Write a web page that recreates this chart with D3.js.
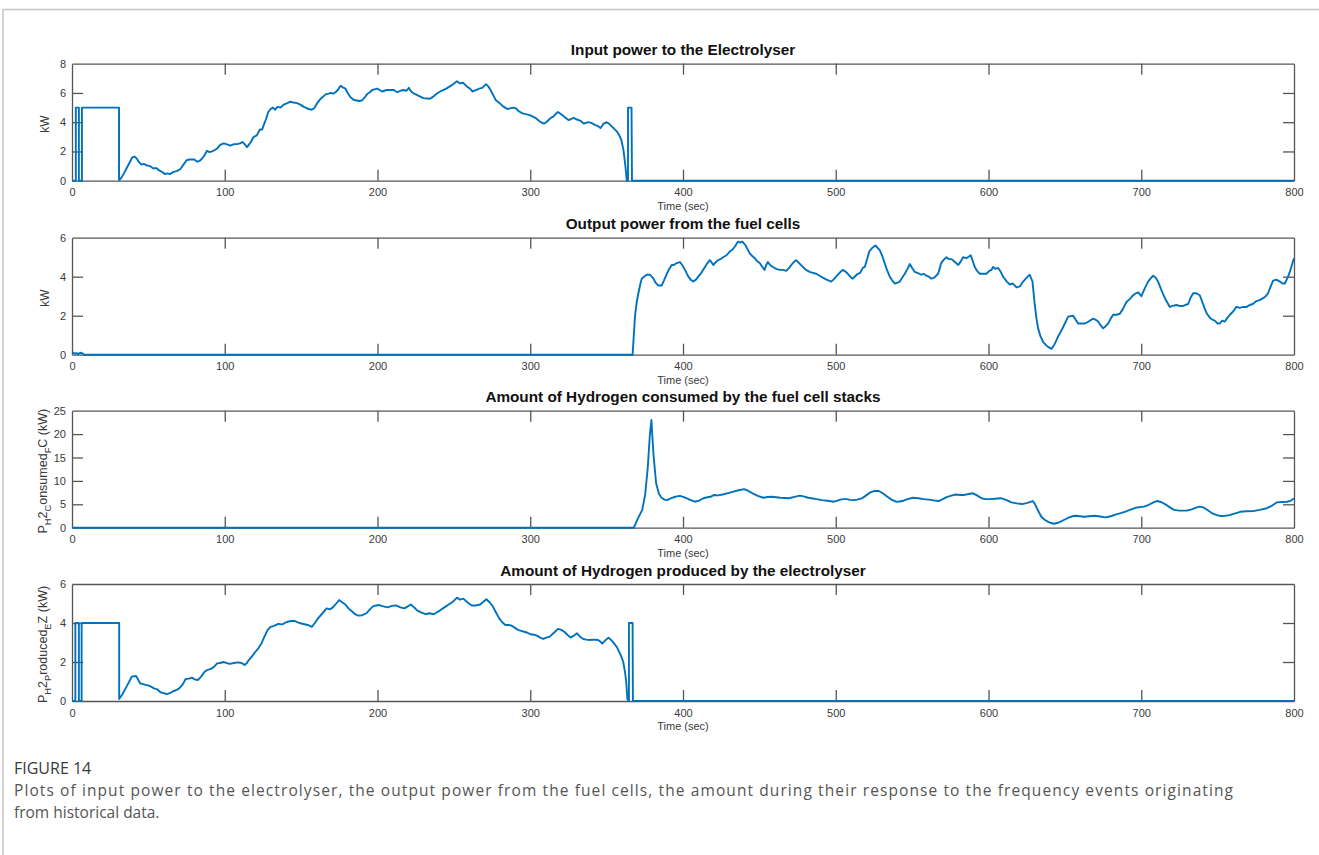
<!DOCTYPE html>
<html>
<head>
<meta charset="utf-8">
<script src="https://cdn.jsdelivr.net/npm/d3@7"></script>
<style>
  html, body { margin: 0; padding: 0; background: #fff; }
  svg { display: block; }
</style>
</head>
<body>
<svg id="fig" width="1319" height="855"></svg>
<script>
// ---- Data: [time (s), value] ----
const timeTicks = [0, 100, 200, 300, 400, 500, 600, 700, 800];

const electrolyserInput = [
  [0,0],[2.5,0],[2.5,5],[4.5,5],[4.5,0],[6.5,0],[6.5,5],[30.8,5],[30.8,0.05],
  [32,0.15],[34,0.5],[36,0.9],[38,1.3],[39.5,1.6],[41,1.65],[42.5,1.5],[44,1.25],[45.5,1.1],[47,1.15],[49,1.05],[51,1.0],[53,0.85],[55.5,0.85],[57,0.7],[59,0.6],[61,0.45],[62.5,0.5],[64,0.45],[66.5,0.6],[68.5,0.65],[71,0.8],[73,1.1],[75,1.4],[77,1.45],[80,1.45],[82,1.3],[83.5,1.35],[85,1.5],[86.5,1.7],[88.4,2.05],[90,1.95],[91.7,2.0],[93.5,2.1],[95,2.2],[97,2.45],[99.3,2.55],[101,2.5],[103.7,2.4],[106,2.5],[108,2.5],[110,2.55],[111.5,2.65],[113,2.5],[114.6,2.3],[116.8,2.6],[119,3.0],[121,3.1],[123,3.5],[124.5,3.5],[125.5,3.8],[127,4.2],[128.5,4.7],[130,4.9],[131.5,5.0],[133,4.85],[134.5,5.05],[136.5,5.0],[138.6,5.2],[141,5.3],[143,5.4],[145,5.35],[147.4,5.3],[149.5,5.2],[151.7,5.05],[153,5.0],[155,4.9],[157,4.85],[158.5,4.95],[160.5,5.3],[162.7,5.6],[164.5,5.75],[166,5.9],[168,5.95],[169.5,6.0],[171,5.95],[172.5,6.05],[174,6.2],[175.8,6.5],[177,6.4],[179,6.3],[180.5,6.0],[182,5.75],[184,5.55],[185.6,5.5],[188,5.45],[190,5.5],[192,5.75],[193.5,5.95],[195,6.05],[196.5,6.2],[198,6.25],[199.8,6.3],[201.5,6.2],[203,6.1],[204.5,6.15],[206,6.2],[208,6.2],[210.7,6.2],[212,6.1],[213,6.05],[215,6.15],[217,6.2],[219,6.15],[220.5,6.35],[222,6.1],[224,5.95],[226,5.85],[228,5.75],
  [230,5.65],[232.5,5.62],[234.4,5.6],[236.5,5.75],[238.7,5.95],[241,6.1],[243,6.2],[245,6.3],[247.4,6.45],[249.5,6.6],[252,6.8],[254,6.65],[256,6.7],[257.5,6.55],[259,6.4],[260.5,6.3],[262.3,6.1],[264.5,6.2],[266.6,6.3],[268.5,6.35],[271,6.6],[272.5,6.45],[274,6.2],[275.5,5.9],[277.5,5.5],[280,5.3],[282,5.1],[283.5,5.0],[285,4.9],[287,4.95],[289,5.0],[290.6,4.95],[292.5,4.75],[295,4.6],[297,4.55],[299,4.5],[300.5,4.45],[302.4,4.35],[304,4.25],[305.6,4.1],[307,4.0],[308.9,3.9],[310.5,4.0],[312,4.15],[313.5,4.3],[315.3,4.4],[317,4.6],[318.2,4.7],[319.5,4.6],[320.8,4.5],[322.5,4.35],[325,4.15],[326.5,4.2],[328.4,4.3],[330,4.2],[331.6,4.15],[333.5,4.05],[335,3.9],[336.5,3.95],[338,4.0],[340,3.95],[342.6,3.8],[344,3.75],[345.9,3.6],[347,3.75],[348,3.9],[350,4.0],[351.5,3.9],[353.5,3.7],[355,3.55],[356.8,3.35],[358.3,3.1],[359.6,2.8],[361,2.1],[362.3,1.0],[363.2,0],[364,0],[364,5],[366.3,5],[366.6,0],[800,0]
];

const fuelCellOutput = [
  [0,0.12],[1,0.1],[2,0.06],[3,0.08],[4,0.03],[5,0.08],[6,0.1],[7,0.06],[8,0],[367,0],
  [368.6,2.0],[369.7,2.7],[370.8,3.15],[372,3.6],[373,3.9],[374.5,4.0],[376.3,4.1],[378.5,4.1],[380.6,3.9],[382,3.7],[383.9,3.55],[386,3.55],[387.5,3.8],[389.4,4.15],[391,4.4],[392.6,4.6],[394,4.6],[395.9,4.7],[398,4.75],[399.5,4.6],[401.3,4.35],[403.5,4.0],[405,3.85],[406.7,3.75],[408.5,3.85],[410,4.0],[412,4.2],[414.4,4.5],[416,4.7],[417.6,4.85],[419,4.7],[419.8,4.6],[421.5,4.75],[423,4.85],[424.5,4.9],[426.3,5.0],[428.5,5.1],[430.7,5.3],[432.5,5.4],[434,5.55],[436,5.8],[437.5,5.75],[438.9,5.8],[441,5.6],[442.3,5.4],[443.7,5.2],[445.5,5.05],[447,4.95],[448.5,4.8],[450.2,4.7],[452,4.5],[453.4,4.35],[454.5,4.6],[455.6,4.75],[457,4.6],[458.9,4.5],[461,4.4],[463.2,4.35],[465.5,4.35],[467.6,4.3],[469.5,4.45],[470.9,4.6],[472.5,4.75],[474.1,4.85],[476,4.7],[478.5,4.5],[480.5,4.35],[482.9,4.25],[485,4.2],[487.2,4.15],[489.5,4.05],[491.5,3.95],[494,3.85],[497,3.75],[498.5,3.85],[500.2,4.0],[502.5,4.2],[504.6,4.35],[506.5,4.25],[507.9,4.15],[509.5,4.0],[511.1,3.9],[513,4.05],[514.4,4.15],[516,4.2],[517.7,4.45],[519,4.5],[520.5,4.9],[522,5.3],[524.2,5.5],[526,5.6],[528.9,5.35],[530.5,5.05],[532,4.7],[533.5,4.35],[535.4,4.0],[537,3.8],[538.7,3.65],[540.5,3.7],[541.9,3.75],[543.5,3.95],[545.2,4.15],[547,4.4],[548.5,4.65],[550,4.45],[551.7,4.25],[553.5,4.2],[556,4.1],[557.5,4.15],[559.4,4.05],[561,4.0],[562.6,3.9],[564.5,3.95],[567,4.15],[568,4.4],[569,4.7],[570.5,4.85],[572.5,5.0],[574,4.9],[575.8,4.9],[578,4.75],[580.2,4.6],[582,4.8],[583.4,5.0],[585.5,4.95],[588.4,5.1],[589.5,4.85],[591,4.5],[592.5,4.3],[594.3,4.15],[596.5,4.15],[598.7,4.15],[600.5,4.3],[602,4.35],[603,4.5],[604.5,4.4],[606.3,4.45],[608,4.25],[609.6,4.0],[612,3.75],[614,3.6],[616,3.65],[618.3,3.45],[620.5,3.5],[622.7,3.75],[625,3.95],[627,4.1],[628.8,3.75],[630.3,2.55],[631.5,1.8],[632.5,1.35],[634,0.95],[635.8,0.65],[637.5,0.5],[639,0.4],[641.2,0.3],[643,0.5],[644.5,0.75],[646,1.0],[647.8,1.25],[650,1.6],[652.1,1.95],[655.4,2.0],[657,1.8],[658.7,1.6],[661,1.6],[663,1.6],[665.5,1.7],[668.5,1.85],[670,1.8],[671.7,1.7],[673.5,1.5],[675,1.35],[676.5,1.45],[678.3,1.6],[680,1.85],[681.6,2.05],[684,2.05],[686,2.1],[688,2.35],[690.3,2.7],[692.5,2.85],[694.7,3.05],[696.5,3.15],[698,3.2],[700.1,3.0],[702,3.35],[704.5,3.75],[706,3.9],[707.8,4.05],[709.5,3.95],[711,3.75],[712.5,3.45],[714.3,3.1],[716.5,2.75],[718.7,2.45],[720.5,2.5],[723,2.55],[725,2.5],[727.4,2.5],[729,2.55],[730.7,2.6],[732.5,2.95],[734,3.15],[736,3.15],[738.3,3.05],[740,2.7],[741.6,2.35],[743,2.1],[744.9,1.9],[746.5,1.8],[748.1,1.75],[750,1.6],[751.4,1.6],[753,1.75],[754.7,1.7],[756.5,1.9],[758,2.05],[760,2.2],[762.3,2.45],[764.5,2.4],[766.7,2.45],[769,2.45],[771,2.55],[773,2.6],[775.4,2.75],[777.5,2.8],[779.8,2.9],[781.5,3.0],[783,3.15],[784.5,3.45],[786.3,3.8],[788.5,3.85],[790.7,3.75],[792.5,3.65],[794,3.65],[796.1,4.0],[797.5,4.3],[799,4.7],[800,4.95]
];

const hydrogenConsumed = [
  [0,0],[367.8,0],[370.5,2.0],[373.3,3.8],[375.2,7.0],[376.9,12.7],[378.3,19.8],[379.3,23.0],[380.7,15.5],[382.4,9.5],[384.3,7.2],[386,6.4],[387.8,6.0],[389.6,5.9],[391.5,6.2],[393.8,6.5],[396,6.7],[398,6.8],[400,6.6],[402.2,6.3],[405,5.9],[407.8,5.55],[410.5,5.8],[413.4,6.3],[416,6.5],[418,6.6],[420.4,7.0],[423,6.9],[426,7.1],[429.5,7.4],[433,7.7],[436.5,8.0],[440,8.25],[442.5,7.9],[445.6,7.35],[449,6.8],[452.6,6.4],[455.5,6.55],[458.2,6.6],[461,6.5],[463.8,6.4],[466.5,6.35],[469.4,6.3],[473,6.6],[476.4,6.85],[479,6.7],[482,6.4],[485,6.25],[487.6,6.1],[491,5.9],[494.6,5.75],[498.8,5.55],[501,5.8],[503,6.0],[505,6.1],[507.2,6.1],[509.5,5.95],[511.4,5.9],[514,6.0],[517,6.25],[519.5,6.8],[522.6,7.55],[525.5,7.85],[528.2,7.85],[531,7.3],[533.8,6.6],[536.5,6.0],[539.4,5.55],[541.5,5.6],[543.6,5.7],[547,6.1],[550.6,6.4],[554,6.3],[557.6,6.1],[561,6.0],[564,5.85],[567.4,5.7],[570,6.1],[573,6.6],[575.8,6.85],[578.6,7.1],[581.5,7.0],[584.2,7.0],[587,7.2],[589.8,7.35],[592.5,6.9],[595.4,6.3],[598,6.1],[601,6.1],[604.5,6.2],[608,6.3],[611.5,5.95],[615,5.4],[618.5,5.2],[622,5.05],[625.5,5.3],[629,5.7],[630.5,5.0],[631.8,4.1],[633.2,3.2],[634.6,2.35],[636.7,1.7],[638.8,1.3],[641,1.0],[643,0.85],[645,1.0],[647.2,1.3],[650,1.75],[652.8,2.2],[655,2.45],[657,2.55],[660,2.45],[662.6,2.35],[666,2.45],[669.6,2.55],[673,2.4],[676.6,2.2],[680,2.45],[683.6,2.85],[686.5,3.1],[689.2,3.4],[692.5,3.8],[696.2,4.25],[699,4.4],[701.8,4.5],[705,4.9],[708,5.4],[710.2,5.7],[713,5.5],[715.8,5.0],[718.5,4.4],[721.4,3.8],[725,3.65],[729.8,3.65],[733,3.9],[736,4.3],[738.2,4.5],[740.5,4.35],[742.4,4.0],[744.5,3.5],[746.6,3.05],[749.5,2.7],[752.2,2.5],[755,2.55],[757.8,2.7],[761,3.0],[764.8,3.4],[769,3.5],[773.2,3.55],[777.5,3.8],[781.6,4.1],[785,4.6],[788.6,5.4],[792,5.5],[795.6,5.55],[798,5.8],[800,6.25]
];

const hydrogenProduced = [
  [0,0],[2.2,0],[2.2,4],[4.5,4],[4.5,0],[6.3,0],[6.3,4],[30.9,4],[30.9,0.1],
  [33,0.35],[35.8,0.75],[37.5,1.0],[39.1,1.25],[41.9,1.28],[43.3,1.1],[44.6,0.9],[47,0.85],[49.6,0.8],[51.5,0.75],[53.7,0.65],[55.8,0.6],[57.9,0.45],[60,0.4],[62,0.35],[64,0.4],[66.1,0.5],[68,0.55],[70.2,0.65],[72.5,0.85],[74.4,1.13],[76.5,1.15],[78.5,1.2],[80.5,1.1],[82.6,1.08],[84.5,1.25],[86.8,1.5],[88.8,1.6],[90.9,1.65],[93,1.75],[95,1.93],[97,1.95],[99.2,2.0],[101,1.95],[103.3,1.9],[106,1.95],[108.8,1.98],[111,1.95],[113,1.85],[114.5,1.95],[115.7,2.1],[118,2.3],[119.8,2.5],[122,2.7],[124,2.95],[126,3.3],[128.1,3.65],[130,3.8],[132.2,3.85],[135,3.95],[137.7,3.93],[140.5,4.05],[143.3,4.1],[146,4.1],[148.8,4.0],[151.5,3.95],[154.3,3.9],[157,3.8],[159,4.0],[161.2,4.25],[164,4.5],[166.7,4.75],[168.8,4.7],[170.8,4.8],[173,5.0],[174.9,5.18],[177,5.05],[179,4.95],[181,4.75],[183.2,4.6],[185.3,4.45],[187.3,4.38],[190,4.4],[192.8,4.5],[195,4.7],[197,4.85],[199,4.9],[201.1,4.92],[203.8,4.85],[206.6,4.8],[209.5,4.88],[212.1,4.9],[215,4.8],[217.6,4.75],[219.8,4.85],[221.8,4.95],[224,4.8],[225.9,4.65],[228.5,4.55],[231.4,4.45],[234,4.5],[236.9,4.45],[239,4.55],[241,4.65],[243.8,4.8],[246.6,4.95],[249.5,5.1],[252,5.3],[254,5.2],[256.2,5.25],[259,5.05],[261.7,4.9],[264.5,4.9],[267.2,4.95],[269.5,5.1],[271.3,5.22],[273.5,5.05],[275.5,4.85],[277.5,4.55],[279.6,4.25],[281.5,4.05],[283.7,3.9],[285.8,3.9],[287.9,3.86],[290,3.75],[292,3.65],[294,3.6],[296.1,3.55],[298.2,3.5],[300.3,3.42],[302.3,3.4],[304.4,3.35],[306.5,3.25],[308.5,3.18],[310.5,3.25],[312.7,3.3],[315.5,3.5],[318.2,3.7],[320.3,3.65],[322.3,3.55],[324.3,3.4],[326.4,3.25],[328.5,3.35],[330.6,3.47],[332.6,3.3],[334.7,3.18],[336.8,3.15],[338.8,3.13],[341.5,3.15],[344.4,3.13],[345.8,3.05],[347.1,2.95],[349,3.1],[351.2,3.25],[353.3,3.1],[355.4,2.9],[356.8,2.75],[358.1,2.53],[359.5,2.3],[360.9,2.0],[362,1.5],[362.8,1.0],[363.6,0.1],[364.6,0],[364.6,4],[367,4],[367.2,0],[800,0]
];

const titles = [
  "Input power to the Electrolyser",
  "Output power from the fuel cells",
  "Amount of Hydrogen consumed by the fuel cell stacks",
  "Amount of Hydrogen produced by the electrolyser"
];
const yTicksInput = [0, 2, 4, 6, 8];
const yTicksOutput = [0, 2, 4, 6];
const yTicksConsumed = [0, 5, 10, 15, 20, 25];
const yTicksProduced = [0, 2, 4, 6];
// y labels as runs of [text, isSubscript]
const yLabelInput = [["kW", false]];
const yLabelOutput = [["kW", false]];
const yLabelConsumed = [["P", false], ["H", true], ["2", false], ["C", true], ["onsumed", false], ["F", true], ["C (kW)", false]];
const yLabelProduced = [["P", false], ["H", true], ["2", false], ["P", true], ["roduced", false], ["E", true], ["Z (kW)", false]];
const xLabel = "Time (sec)";
const figureLabel = "FIGURE 14";
const captionLines = [
  "Plots of input power to the electrolyser, the output power from the fuel cells, the amount during their response to the frequency events originating",
  "from historical data."
];

// ---- Drawing ----
const svg = d3.select("#fig");
const FONT = "'Liberation Sans', Arial, Helvetica, sans-serif";
const AXIS_COLOR = "#555";
const LINE_COLOR = "#0072BD";
const plotLeft = 72, plotRight = 1294, plotH = 117, tickLen = 11;

// outer frame (top and left rules)
svg.append("line").attr("x1", 3).attr("x2", 1319).attr("y1", 9.5).attr("y2", 9.5)
  .attr("stroke", "#c4c4c4").attr("stroke-width", 1.5);
svg.append("line").attr("x1", 3).attr("x2", 3).attr("y1", 9.5).attr("y2", 855)
  .attr("stroke", "#c4c4c4").attr("stroke-width", 1.5);

const x = d3.scaleLinear().domain([0, 800]).range([plotLeft, plotRight]);

const panels = [
  { top: 63.7,  ymax: 8,  yticks: yTicksInput,    label: yLabelInput,    data: electrolyserInput, title: titles[0], labelX: 49, labelSize: 12 },
  { top: 237.7, ymax: 6,  yticks: yTicksOutput,   label: yLabelOutput,   data: fuelCellOutput,    title: titles[1], labelX: 49, labelSize: 12 },
  { top: 410.7, ymax: 25, yticks: yTicksConsumed, label: yLabelConsumed, data: hydrogenConsumed,  title: titles[2], labelX: 47, labelSize: 12.5 },
  { top: 584,   ymax: 6,  yticks: yTicksProduced, label: yLabelProduced, data: hydrogenProduced,  title: titles[3], labelX: 47, labelSize: 12.5 }
];

panels.forEach(p => {
  const bottom = p.top + plotH;
  const y = d3.scaleLinear().domain([0, p.ymax]).range([bottom, p.top]);
  const g = svg.append("g");

  // bottom axis with inward ticks and labels
  const ax = g.append("g").attr("transform", `translate(0,${bottom})`)
    .call(d3.axisBottom(x).tickValues(timeTicks).tickSize(-tickLen).tickSizeOuter(0).tickPadding(8));
  // top axis, ticks only
  const axT = g.append("g").attr("transform", `translate(0,${p.top})`)
    .call(d3.axisTop(x).tickValues(timeTicks).tickSize(-tickLen).tickSizeOuter(0).tickFormat(""));
  // left axis with labels
  const ayL = g.append("g").attr("transform", `translate(${plotLeft},0)`)
    .call(d3.axisLeft(y).tickValues(p.yticks).tickSize(-tickLen).tickSizeOuter(0).tickPadding(6).tickFormat(d3.format("d")));
  // right axis, ticks only
  const ayR = g.append("g").attr("transform", `translate(${plotRight},0)`)
    .call(d3.axisRight(y).tickValues(p.yticks).tickSize(-tickLen).tickSizeOuter(0).tickFormat(""));

  [ax, axT, ayL, ayR].forEach(a => {
    a.select(".domain").attr("stroke", AXIS_COLOR).attr("stroke-width", 1.3);
    a.selectAll(".tick line").attr("stroke", AXIS_COLOR).attr("stroke-width", 1.3);
    a.selectAll(".tick text").attr("fill", "#3a3a3a").style("font-family", FONT).style("font-size", "11px");
  });
  // the extreme ticks sit on the box edges; hide the ones that would double the frame
  ax.selectAll(".tick").filter(d => d === 0 || d === 800).select("line").attr("opacity", 0);
  axT.selectAll(".tick").filter(d => d === 0 || d === 800).select("line").attr("opacity", 0);
  ayL.selectAll(".tick").filter(d => d === 0 || d === p.ymax).select("line").attr("opacity", 0);
  ayR.selectAll(".tick").filter(d => d === 0 || d === p.ymax).select("line").attr("opacity", 0);

  // title
  g.append("text").attr("x", (plotLeft + plotRight) / 2).attr("y", p.top - 8.5)
    .attr("text-anchor", "middle").style("font-family", FONT).style("font-size", "15.3px")
    .style("font-weight", "bold").attr("fill", "#111").text(p.title);

  // x label
  g.append("text").attr("x", (plotLeft + plotRight) / 2).attr("y", bottom + 29)
    .attr("text-anchor", "middle").style("font-family", FONT).style("font-size", "11px")
    .attr("fill", "#3a3a3a").text(xLabel);

  // y label (rotated, with subscript runs)
  const cy = p.top + plotH / 2 + 2;
  const yl = g.append("text")
    .attr("transform", `translate(${p.labelX},${cy}) rotate(-90)`)
    .attr("text-anchor", "middle").style("font-family", FONT)
    .style("font-size", p.labelSize + "px").attr("fill", "#3a3a3a");
  let shifted = false;
  p.label.forEach(([txt, sub]) => {
    const t = yl.append("tspan").text(txt);
    if (sub && !shifted) { t.attr("dy", 4).style("font-size", (p.labelSize * 0.75) + "px"); shifted = true; }
    else if (!sub && shifted) { t.attr("dy", -4); shifted = false; }
    else if (sub) { t.style("font-size", (p.labelSize * 0.75) + "px"); }
  });

  // data line
  const line = d3.line().x(d => x(d[0])).y(d => y(d[1]));
  g.append("path").datum(p.data).attr("d", line)
    .attr("fill", "none").attr("stroke", LINE_COLOR).attr("stroke-width", 1.9)
    .attr("stroke-linejoin", "round");
});

// caption (first line fitted to the text block width)
const CAP_FONT = "'Open Sans', 'Noto Sans', sans-serif";
const captionWidth = 1219;
svg.append("text").attr("x", 14).attr("y", 774)
  .style("font-family", CAP_FONT).style("font-size", "16px").attr("fill", "#3a3a3a")
  .text(figureLabel);
captionLines.forEach((ln, i) => {
  const t = svg.append("text").attr("x", 14).attr("y", 796 + i * 21.5)
    .style("font-family", CAP_FONT).style("font-size", "15.5px").attr("fill", "#555")
    .text(ln);
  if (i < captionLines.length - 1) t.attr("textLength", captionWidth).attr("lengthAdjust", "spacing");
});
</script>
</body>
</html>
